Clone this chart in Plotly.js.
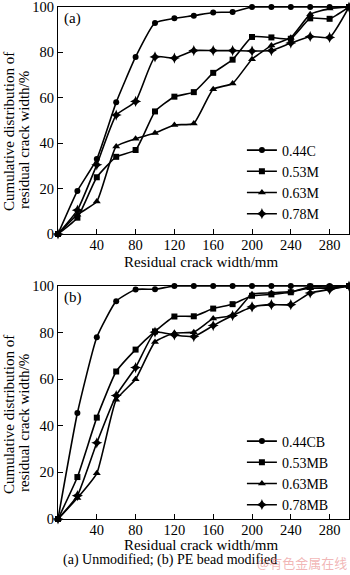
<!DOCTYPE html>
<html>
<head>
<meta charset="utf-8">
<script src="https://cdn.plot.ly/plotly-3.0.1.min.js"></script>
<style>html,body{margin:0;padding:0;background:#fff;}#chart{width:350px;height:575px;}</style>
</head>
<body>
<div id="chart"></div>
<script>
// Residual crack width (mm)
const widths = [0,20,40,60,80,100,120,140,160,180,200,220,240,260,280,300];

// (a) Unmodified
const namesA = ["0.44C","0.53M","0.63M","0.78M"];
const c044 = [0,19,33,58,78,93,95,96.2,97.6,97.8,100,100,100,100,100,100];
const m053 = [0,7.2,25,34,37,54,60.5,62.5,71,76.8,86.8,86.6,86,95,94.8,100];
const m063 = [0,8.5,14.3,38.6,42,44.5,48,48.7,63.8,66.3,77,83,86.5,96.8,99.3,100];
const m078 = [0,10.5,30.5,52.4,58.4,78,77.5,80.8,80.8,80.8,80.6,80.8,84.1,87,86.6,100];

// (b) PE bead modified
const namesB = ["0.44CB","0.53MB","0.63MB","0.78MB"];
const cb044 = [0,45.5,78,93.5,98.5,98.6,100,100,100,100,100,100,100,100,100,100];
const mb053 = [0,18,43.5,63.3,72.7,80.5,86.9,87,90.3,92.2,95.8,96.4,97.3,99.7,99.5,100];
const mb063 = [0,9,19.6,51.2,60,76,79.8,80.2,86,87.4,96.5,97,97.6,99,99,100];
const mb078 = [0,10,32.7,53,65,80.2,79,78.3,83,87.3,91,92,92,97,98.5,100];

const yTicks = [0,20,40,60,80,100];
const xTicks = [40,80,120,160,200,240,280];

const symbols = ["circle","square","triangle-up","star-diamond"];
const symSizes = [6,6,7,8];
const FONT = "Liberation Serif, Times New Roman, serif";

function mk(x, y, name, i, xa, ya, leg) {
  return {
    x: x, y: y, name: name, type: "scatter", mode: "lines+markers",
    xaxis: xa, yaxis: ya, legend: leg, cliponaxis: false,
    line: {color: "#000", width: 1.6, shape: "spline", smoothing: 0.45},
    marker: {symbol: symbols[i], size: symSizes[i], color: "#000"}
  };
}

const dataA = [c044, m053, m063, m078];
const dataB = [cb044, mb053, mb063, mb078];
const traces = [];
dataA.forEach((d, i) => traces.push(mk(widths, d, namesA[i], i, "x", "y", "legend")));
dataB.forEach((d, i) => traces.push(mk(widths, d, namesB[i], i, "x2", "y2", "legend2")));

function xax(anchor) {
  return {
    anchor: anchor, range: [0, 300], domain: [0, 1],
    tickvals: xTicks, ticks: "inside", ticklen: 5, tickcolor: "#000",
    showline: true, linecolor: "#000", linewidth: 1, mirror: true,
    showgrid: false, zeroline: false, ticklabeloverflow: "allow",
    ticklabelstandoff: -2,
    tickfont: {family: FONT, size: 14.5, color: "#000"}
  };
}
function yax(anchor, dom) {
  return {
    anchor: anchor, range: [0, 100], domain: dom,
    tickvals: yTicks, ticks: "inside", ticklen: 5, tickcolor: "#000",
    showline: true, linecolor: "#000", linewidth: 1, mirror: true,
    showgrid: false, zeroline: false, ticklabeloverflow: "allow",
    tickfont: {family: FONT, size: 14.5, color: "#000"}
  };
}

const legendBase = {
  x: 0.632, xanchor: "left", yanchor: "middle",
  bgcolor: "rgba(0,0,0,0)", borderwidth: 0,
  font: {family: FONT, size: 14, color: "#000"},
  itemwidth: 30, tracegroupgap: 0
};

const annFont = {family: FONT, size: 15, color: "#000"};
function ann(text, x, y, extra) {
  return Object.assign({text: text, xref: "paper", yref: "paper", x: x, y: y,
    xanchor: "center", yanchor: "middle", showarrow: false, font: annFont}, extra || {});
}

const layout = {
  width: 350, height: 575,
  margin: {l: 58, r: 1, t: 7, b: 56},
  paper_bgcolor: "#fff", plot_bgcolor: "#fff",
  showlegend: true,
  xaxis: xax("y"),
  yaxis: yax("x", [0.5566, 1]),
  xaxis2: xax("y2"),
  yaxis2: yax("x2", [0, 0.4551]),
  legend: Object.assign({}, legendBase, {y: 0.6582}),
  legend2: Object.assign({}, legendBase, {y: 0.0898}),
  annotations: [
    {text: "(a)", xref: "x", yref: "y", x: 4, y: 95, xanchor: "left", yanchor: "middle", showarrow: false, font: annFont},
    {text: "(b)", xref: "x2", yref: "y2", x: 4, y: 95, xanchor: "left", yanchor: "middle", showarrow: false, font: annFont},
    ann("Residual crack width/mm", 0.49, 0.502),
    ann("Residual crack width/mm", 0.49, -0.0508),
    ann("Cumulative distribution of", 0, 0.7559, {xshift: -49, textangle: -90}),
    ann("residual crack width/%", 0, 0.7402, {xshift: -34, textangle: -90}),
    ann("Cumulative distribution of", 0, 0.2031, {xshift: -49, textangle: -90}),
    ann("residual crack width/%", 0, 0.1875, {xshift: -34, textangle: -90}),
    ann("(a) Unmodified; (b) PE bead modified", 0.385, -0.0801, {font: {family: FONT, size: 14, color: "#000"}}),
    ann("@有色金属在线", 1, -0.0859, {xanchor: "right", font: {family: "Noto Sans CJK SC", size: 13, color: "rgba(230,120,120,0.55)"}})
  ]
};

Plotly.newPlot("chart", traces, layout, {staticPlot: true, displayModeBar: false});
</script>
</body>
</html>
